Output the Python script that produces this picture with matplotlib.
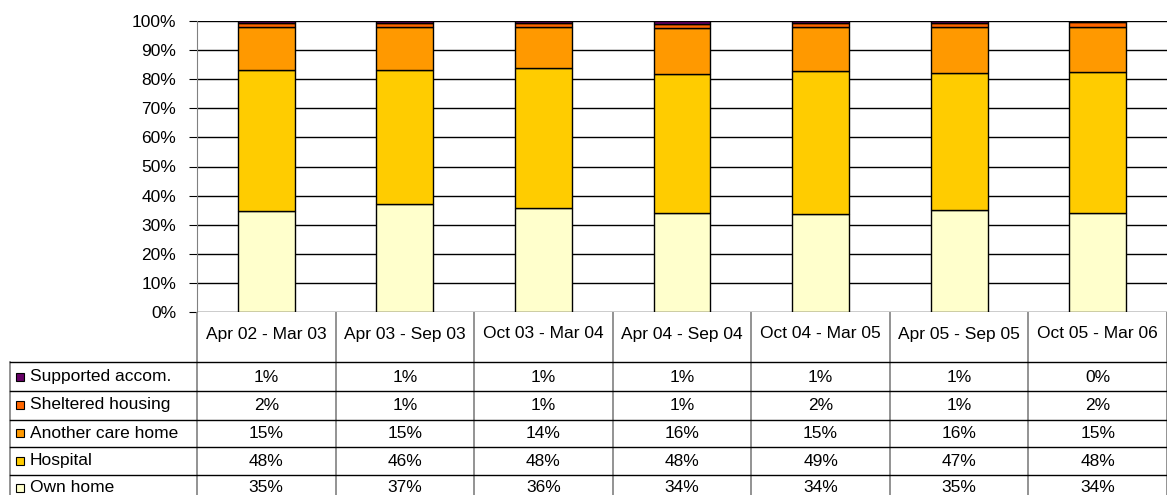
import numpy as np
import matplotlib.pyplot as plt
from matplotlib.patches import Rectangle

plt.rcParams['font.family'] = ['Liberation Sans', 'DejaVu Sans']

periods = ["Apr 02 - Mar 03", "Apr 03 - Sep 03", "Oct 03 - Mar 04", "Apr 04 - Sep 04",
           "Oct 04 - Mar 05", "Apr 05 - Sep 05", "Oct 05 - Mar 06"]
series_names = ["Own home", "Hospital", "Another care home", "Sheltered housing", "Supported accom."]
own_home = [34.7, 37.0, 35.8, 34.0, 33.6, 34.9, 34.0]
hospital = [47.9, 45.6, 47.9, 47.6, 49.0, 46.9, 48.2]
another_care_home = [14.7, 14.9, 14.1, 16.0, 14.8, 16.1, 15.3]
sheltered_housing = [1.6, 1.4, 1.3, 1.4, 1.6, 1.3, 1.6]
supported_accom = [0.6, 0.6, 0.7, 0.9, 0.6, 0.6, 0.4]
colors = ["#FFFFCC", "#FFCC00", "#FF9900", "#FF6600", "#660066"]

W, H = 1167, 495
FS = 12.5
fig = plt.figure(figsize=(W / 100, H / 100), dpi=100)

# chart area in pixel coords
x0, x1, ytop, ybot = 197, 1167, 21, 312
ax = fig.add_axes([x0 / W, (H - ybot) / H, (x1 - x0) / W, (ybot - ytop) / H])

data = np.array([own_home, hospital, another_care_home, sheltered_housing, supported_accom])
pct = data / data.sum(axis=0) * 100
x = np.arange(len(periods))
bottom = np.zeros(len(periods))
for vals, c in zip(pct, colors):
    ax.bar(x, vals, 0.41, bottom=bottom, color=c, edgecolor="black", linewidth=1, zorder=3)
    bottom += vals

ax.set_xlim(-0.5, len(periods) - 0.5)
ax.set_ylim(0, 100)
ax.set_yticks(np.arange(0, 101, 10))
ax.set_yticklabels([f"{v}%" for v in range(0, 101, 10)], fontsize=FS)
ax.yaxis.grid(True, color="black", linewidth=1)
ax.set_axisbelow(True)
ax.set_xticks([])
for s in ["top", "right", "bottom"]:
    ax.spines[s].set_visible(False)
ax.spines["left"].set_color("#808080")
ax.tick_params(axis="y", length=6, color="black", pad=9)

# data table below the chart
tax = fig.add_axes([0, 0, 1, (H - ybot) / H])
tax.set_xlim(0, W)
tax.set_ylim(H, ybot)
tax.axis("off")

col_w = (x1 - x0) / len(periods)
edges = [x0 + i * col_w for i in range(len(periods) + 1)]
row_lines = [362, 391, 420, 447, 475]
row_mid = [377, 405, 433, 461, 488]

for xe in edges:
    tax.plot([xe, xe], [ybot, H], color="#808080", lw=1.2)
tax.plot([10, 10], [362, H], color="#808080", lw=1.2)
for yl in row_lines:
    tax.plot([10, W], [yl, yl], color="black", lw=1)

for i, p in enumerate(periods):
    tax.text(edges[i] + col_w / 2, 334, p, ha="center", va="center", fontsize=FS)

table_rows = list(zip(series_names, data, colors))[::-1]
for r, (name, vals, c) in enumerate(table_rows):
    y = row_mid[r]
    tax.add_patch(Rectangle((16, y - 4), 8, 8, facecolor=c, edgecolor="black", lw=0.8))
    tax.text(30, y, name, ha="left", va="center", fontsize=FS)
    for i, v in enumerate(vals):
        tax.text(edges[i] + col_w / 2, y, f"{round(v):.0f}%", ha="center", va="center", fontsize=FS)

plt.savefig("out.png", dpi=100)
